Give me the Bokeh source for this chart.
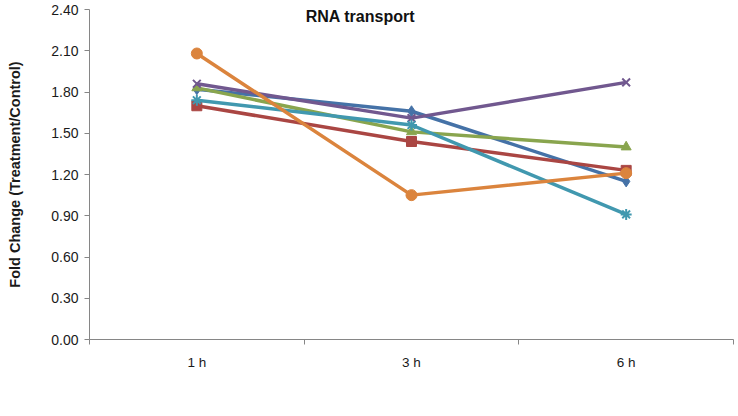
from bokeh.plotting import figure
from bokeh.models import (Range1d, LinearAxis, FixedTicker, Legend, LegendItem, Label,
                          NumeralTickFormatter)
from bokeh.embed import file_html
from bokeh.resources import INLINE

categories = ["1 h", "3 h", "6 h"]
series_names = ["10020489", "10004109", "10012222", "10010902", "10011365", "10022069"]
s_10020489 = [1.82, 1.66, 1.15]
s_10004109 = [1.70, 1.44, 1.23]
s_10012222 = [1.83, 1.51, 1.40]
s_10010902 = [1.86, 1.61, 1.87]
s_10011365 = [1.74, 1.56, 0.91]
s_10022069 = [2.08, 1.05, 1.21]
series_values = [s_10020489, s_10004109, s_10012222, s_10010902, s_10011365, s_10022069]
y_ticks = [0.0, 0.3, 0.6, 0.9, 1.2, 1.5, 1.8, 2.1, 2.4]
title_text = "RNA transport"
y_title = "Fold Change (Treatment/Control)"

colors = ["#4572A7", "#AA4643", "#89A54E", "#71588F", "#4198AF", "#DB843D"]
markers = ["diamond", "square", "triangle", "x", "asterisk", "circle"]
sizes = [11, 10, 10, 11, 11, 11]

FONT = "Liberation Sans"
TXT = "#1a1a1a"
AXC = "#868686"

n = len(categories)
xpos = [i + 0.5 for i in range(n)]          # category centres on a numeric scale
edges = list(range(n + 1))                  # category boundaries

p = figure(frame_width=644, frame_height=330, x_range=Range1d(0, n), y_range=Range1d(0, 2.4),
           output_backend="svg", toolbar_location=None,
           x_axis_location=None, y_axis_location=None)
p.min_border_left = 89
p.min_border_right = 5
p.min_border_top = 9
p.min_border_bottom = 0
p.outline_line_color = None
p.xgrid.visible = False
p.ygrid.visible = False
p.background_fill_color = "white"
p.border_fill_color = "white"

# y axis
yax = LinearAxis(ticker=FixedTicker(ticks=y_ticks), formatter=NumeralTickFormatter(format="0.00"))
yax.axis_line_color = AXC
yax.major_tick_line_color = AXC
yax.major_tick_out = 5
yax.major_tick_in = 0
yax.minor_tick_line_color = None
yax.major_label_text_font = FONT
yax.major_label_text_font_size = "14px"
yax.major_label_text_color = TXT
yax.major_label_standoff = 6
yax.axis_label = y_title
yax.axis_label_text_font = FONT
yax.axis_label_text_font_style = "bold"
yax.axis_label_text_font_size = "14.5px"
yax.axis_label_text_color = TXT
yax.axis_label_standoff = 25
p.add_layout(yax, "left")

# x axis: boundary ticks
eax = LinearAxis(ticker=FixedTicker(ticks=edges))
eax.axis_line_color = AXC
eax.major_tick_line_color = AXC
eax.major_tick_out = 5
eax.major_tick_in = 0
eax.minor_tick_line_color = None
eax.major_label_text_color = None
eax.major_label_text_font_size = "1px"
eax.major_label_standoff = 0
p.add_layout(eax, "below")

# x axis: category labels
cax = LinearAxis(ticker=FixedTicker(ticks=xpos),
                 major_label_overrides={x: c for x, c in zip(xpos, categories)})
cax.axis_line_color = None
cax.major_tick_line_color = None
cax.minor_tick_line_color = None
cax.major_label_text_font = FONT
cax.major_label_text_font_size = "13.5px"
cax.major_label_text_color = TXT
cax.major_label_standoff = 4
p.add_layout(cax, "below")

items = []
for name, vals, c, m, s in zip(series_names, series_values, colors, markers, sizes):
    r1 = p.line(xpos, vals, line_color=c, line_width=3.5)
    r2 = p.scatter(xpos, vals, marker=m, size=s, fill_color=c, line_color=c,
                   line_width=2 if m in ("x", "asterisk") else 1)
    items.append(LegendItem(label=name, renderers=[r1, r2]))

legend = Legend(items=items, orientation="horizontal", location="center")
legend.label_text_font = FONT
legend.label_text_font_size = "14px"
legend.label_text_color = TXT
legend.glyph_width = 27
legend.glyph_height = 14
legend.label_height = 14
legend.label_standoff = 3
legend.spacing = 17
legend.padding = 0
legend.margin = 0
legend.border_line_color = None
legend.background_fill_alpha = 0
p.add_layout(legend, "below")

p.add_layout(Label(x=1.262, y=2.35, text=title_text,
                   text_font=FONT, text_font_style="bold", text_font_size="16px",
                   text_align="center", text_baseline="middle", text_color="#111111"))

open("out.html", "w").write(file_html(p, INLINE))
